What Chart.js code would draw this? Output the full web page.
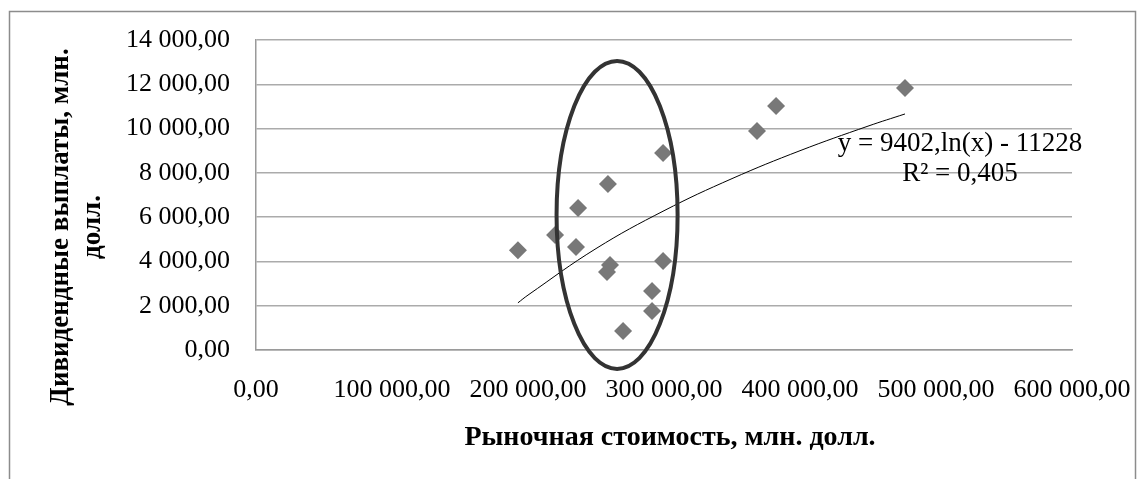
<!DOCTYPE html>
<html>
<head>
<meta charset="utf-8">
<script src="https://cdn.jsdelivr.net/npm/chart.js@4.4.0/dist/chart.umd.min.js"></script>
<style>
    html, body { margin: 0; padding: 0; background: #fff; }
    #wrap { width: 1147px; height: 479px; }
</style>
</head>
<body>
<div id="wrap"><canvas id="chart"></canvas></div>
<script>
// values
const marketValue = [192600, 219900, 236800, 235300, 258800, 260300, 258100, 299300, 299300, 291200, 291200, 269900, 368400, 382400, 477200];
const dividends = [4500, 5190, 6410, 4650, 7500, 3840, 3520, 8900, 4020, 2660, 1760, 860, 9890, 11020, 11830];
// logarithmic trend line
const trendX = [192600, 200000, 250000, 300000, 350000, 400000, 450000, 477200];
const trendY = [2130, 2480, 4580, 6290, 7740, 9000, 10110, 10660];
const xTicks = [0, 100000, 200000, 300000, 400000, 500000, 600000];
const yTicks = [0, 2000, 4000, 6000, 8000, 10000, 12000, 14000];
const xTitle = "Рыночная стоимость, млн. долл.";
const yTitle = ["Дивидендные выплаты, млн.", "долл."];
const trendText = ["y = 9402,ln(x) - 11228", "R² = 0,405"];

const SERIF = "'Liberation Serif', 'Times New Roman', serif";

let fmt = function (v) {
    const parts = Math.abs(v).toFixed(2).split(".");
    return parts[0].replace(/\B(?=(\d{3})+(?!\d))/g, " ") + "," + parts[1];
};

let points = marketValue.map((x, i) => ({x: x, y: dividends[i]}));
let trend = trendX.map((x, i) => ({x: x, y: trendY[i]}));

// hand drawn ellipse around the middle group, in data units
const ring = {x: 265500, y: 6100, rx: 44500, ry: 6955};

const decor = {
    id: "decor",
    beforeDraw(chart) {
        const ctx = chart.ctx;
        ctx.save();
        ctx.strokeStyle = "#8c8c8c";
        ctx.lineWidth = 1.5;
        ctx.strokeRect(9.5, 11.5, 1126, 480);
        ctx.restore();
    },
    afterDatasetsDraw(chart) {
        const ctx = chart.ctx;
        const xs = chart.scales.x, ys = chart.scales.y;
        const cx = xs.getPixelForValue(ring.x), cy = ys.getPixelForValue(ring.y);
        const rx = xs.getPixelForValue(ring.x + ring.rx) - cx;
        const ry = cy - ys.getPixelForValue(ring.y + ring.ry);
        ctx.save();
        ctx.strokeStyle = "#333";
        ctx.lineWidth = 4;
        ctx.beginPath();
        ctx.ellipse(cx, cy, rx, ry, 0, 0, Math.PI * 2);
        ctx.stroke();
        ctx.restore();
    },
    afterDraw(chart) {
        const ctx = chart.ctx;
        const xs = chart.scales.x, ys = chart.scales.y;
        ctx.save();
        ctx.fillStyle = "#000";
        ctx.textAlign = "center";
        ctx.textBaseline = "middle";
        // axis titles
        ctx.font = "bold 28px " + SERIF;
        ctx.fillText(xTitle, 670, 438);
        ctx.font = "bold 27px " + SERIF;
        ctx.save();
        ctx.translate(61, 227);
        ctx.rotate(-Math.PI / 2);
        ctx.fillText(yTitle[0], 0, 0);
        ctx.restore();
        ctx.save();
        ctx.translate(93, 227);
        ctx.rotate(-Math.PI / 2);
        ctx.fillText(yTitle[1], 0, 0);
        ctx.restore();
        // trend equation
        ctx.font = "27px " + SERIF;
        ctx.fillText(trendText[0], xs.getPixelForValue(517600), ys.getPixelForValue(9300));
        ctx.fillText(trendText[1], xs.getPixelForValue(517600), ys.getPixelForValue(7950));
        ctx.restore();
    }
};

new Chart(document.getElementById("chart"), {
    type: "scatter",
    data: {
        datasets: [{
            label: "points",
            data: points,
            pointStyle: "rectRot",
            pointRadius: 9,
            pointHoverRadius: 9,
            backgroundColor: "#787878",
            borderColor: "#787878",
            borderWidth: 0
        }, {
            label: "trend",
            data: trend,
            showLine: true,
            pointRadius: 0,
            borderColor: "#000",
            borderWidth: 1,
            tension: 0.4
        }]
    },
    options: {
        responsive: true,
        maintainAspectRatio: false,
        animation: false,
        layout: {padding: {left: 0, top: 40, right: 75, bottom: 0}},
        plugins: {legend: {display: false}, tooltip: {enabled: false}},
        scales: {
            x: {
                type: "linear",
                min: 0,
                max: 600000,
                afterBuildTicks: (s) => { s.ticks = xTicks.map(v => ({value: v})); },
                afterFit: (s) => {
                    s.height = 129;
                    s.paddingLeft = 0;
                    s.paddingRight = 0;
                },
                grid: {display: false, drawTicks: false},
                border: {color: "#9a9a9a", width: 1.5},
                ticks: {
                    padding: 25,
                    color: "#000",
                    maxRotation: 0,
                    autoSkip: false,
                    font: {family: SERIF, size: 26},
                    callback: (v) => fmt(v)
                }
            },
            y: {
                type: "linear",
                min: 0,
                max: 14000,
                afterBuildTicks: (s) => { s.ticks = yTicks.map(v => ({value: v})); },
                afterFit: (s) => {
                    s.width = 256;
                    s.paddingTop = 0;
                    s.paddingBottom = 0;
                },
                grid: {color: "#ababab", lineWidth: 1.5, drawTicks: false},
                border: {color: "#9a9a9a", width: 1.5},
                ticks: {
                    padding: 26,
                    color: "#000",
                    autoSkip: false,
                    font: {family: SERIF, size: 26},
                    callback: (v) => fmt(v)
                }
            }
        }
    },
    plugins: [decor]
});
</script>
</body>
</html>
